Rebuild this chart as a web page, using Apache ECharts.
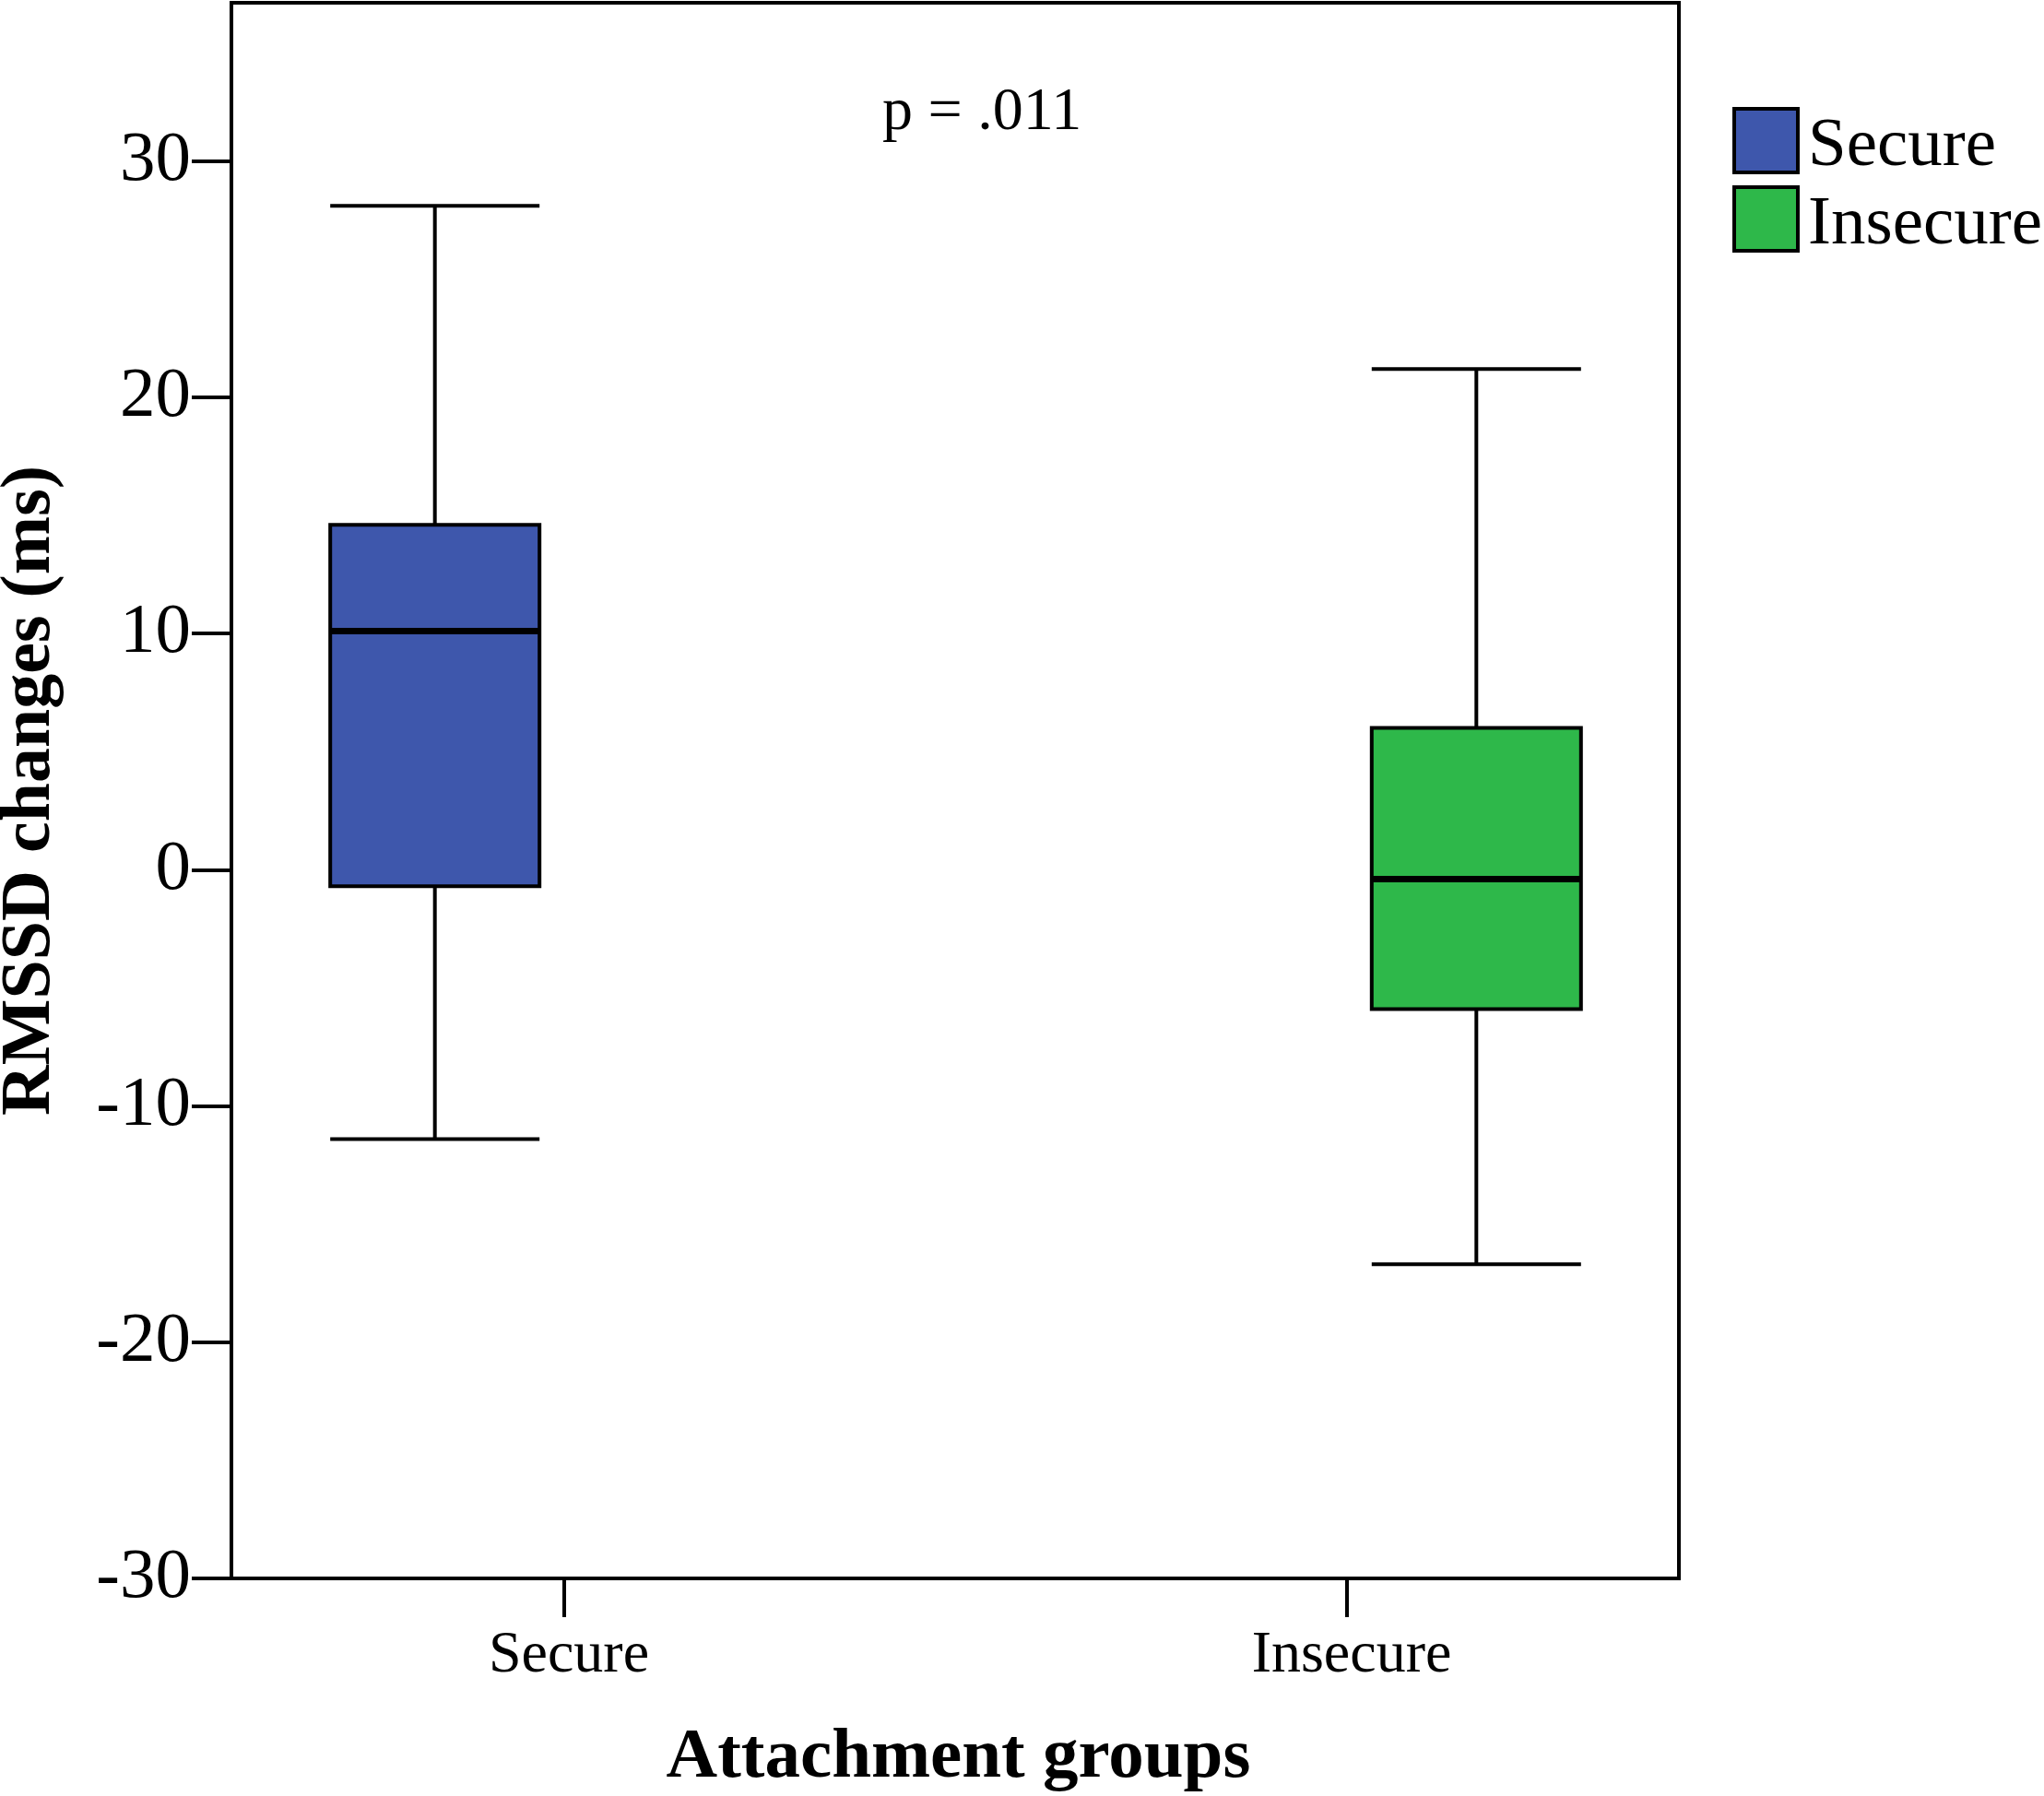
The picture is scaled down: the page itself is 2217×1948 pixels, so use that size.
<!DOCTYPE html>
<html><head><meta charset="utf-8">
<script src="https://cdn.jsdelivr.net/npm/echarts@6/dist/echarts.min.js"></script>
<style>html,body{margin:0;padding:0;background:#fff}#c{width:2217px;height:1948px}</style>
</head><body><div id="c"></div>
<script>
// ---- data ----
const categories = ['Secure', 'Insecure'];
const groupNames = ['Secure', 'Insecure'];
// [min, Q1, median, Q3, max]
const secureStats = [-11.4, -0.7, 10.1, 14.6, 28.1];
const insecureStats = [-16.7, -5.9, -0.4, 6.0, 21.2];
const yTicks = [-30, -20, -10, 0, 10, 20, 30];
const yMin = -30;
const yMax = 36.7;
const pLabel = 'p = .011';
const xTitle = 'Attachment groups';
const yTitle = 'RMSSD changes (ms)';
const groupColors = ['#3E57AC', '#2EB84A'];

// ---- build ----
const FONT = "'Liberation Serif', 'Times New Roman', serif";
const statsByGroup = [secureStats, insecureStats];
const emptyBox = ['-', '-', '-', '-', '-'];
const gridTop = 3, gridH = 1709;

const series = [];
groupNames.forEach((g, i) => {
  const stats = statsByGroup[i];
  series.push({
    name: g, type: 'boxplot', xAxisIndex: 2, yAxisIndex: 2,
    boxWidth: [227, 227],
    itemStyle: { color: groupColors[i], borderColor: '#000', borderWidth: 4 },
    emphasis: { disabled: true },
    data: categories.map((c, j) => j === i ? stats : emptyBox)
  });
});
groupNames.forEach((g, i) => {
  const med = statsByGroup[i][2];
  series.push({
    name: g + ' median', type: 'boxplot', xAxisIndex: 3, yAxisIndex: 2,
    boxWidth: [227, 227], z: 5,
    itemStyle: { color: 'rgba(0,0,0,0)', borderColor: '#000', borderWidth: 7 },
    emphasis: { disabled: true },
    data: categories.map((c, j) => j === i ? [med, med, med, med, med] : emptyBox)
  });
});

const option = {
  animation: false,
  backgroundColor: '#fff',
  title: {
    text: pLabel, left: 957, top: 90, padding: 0,
    textStyle: { fontFamily: FONT, fontSize: 66, fontWeight: 'normal', color: '#000' }
  },
  legend: {
    orient: 'vertical', left: 1879, top: 116, padding: 0,
    itemWidth: 69, itemHeight: 69, itemGap: 4, icon: 'rect',
    selectedMode: false,
    formatter: function (name) { return '{t|' + name + '}'; },
    textStyle: {
      fontFamily: FONT, fontSize: 75, color: '#000',
      rich: { t: { fontFamily: FONT, fontSize: 75, color: '#000', padding: [14, 0, 0, 6] } }
    },
    data: groupNames.map((g, i) => ({
      name: g, itemStyle: { color: groupColors[i], borderColor: '#000', borderWidth: 4 }
    }))
  },
  grid: [
    { left: 251, top: gridTop, width: 1570, height: gridH, show: true, borderColor: '#000', borderWidth: 4, backgroundColor: 'transparent', outerBoundsMode: 'none', containLabel: false },
    { left: 187.5, top: gridTop, width: 1698, height: gridH, outerBoundsMode: 'none', containLabel: false },
    { left: 262, top: gridTop, width: 1549, height: gridH, outerBoundsMode: 'none', containLabel: false }
  ],
  xAxis: [
    { gridIndex: 0, type: 'category', data: categories, show: false },
    {
      gridIndex: 1, type: 'category', data: categories, position: 'bottom',
      axisLine: { show: false, onZero: false },
      axisTick: { show: true, alignWithLabel: true, length: 42, lineStyle: { color: '#000', width: 4 } },
      axisLabel: { fontFamily: FONT, fontSize: 64, color: '#000', margin: 52, padding: [0, 0, 0, 10] },
      name: xTitle, nameLocation: 'middle', nameGap: 157,
      nameTextStyle: { fontFamily: FONT, fontSize: 77, fontWeight: 'bold', color: '#000', padding: [0, 0, 0, 6] }
    },
    { gridIndex: 2, type: 'category', data: categories, show: false },
    { gridIndex: 2, type: 'category', data: categories, show: false }
  ],
  yAxis: [
    {
      gridIndex: 0, type: 'value', min: yMin, max: yMax, interval: 10,
      axisLine: { show: true, onZero: false, lineStyle: { color: '#000', width: 4 } },
      axisTick: { show: true, length: 43, customValues: yTicks, lineStyle: { color: '#000', width: 4 } },
      axisLabel: { fontFamily: FONT, fontSize: 77, color: '#000', margin: 44, customValues: yTicks },
      splitLine: { show: false },
      name: yTitle, nameLocation: 'middle', nameGap: 180,
      nameTextStyle: { fontFamily: FONT, fontSize: 76, fontWeight: 'bold', color: '#000' }
    },
    { gridIndex: 1, type: 'value', min: yMin, max: yMax, show: false },
    { gridIndex: 2, type: 'value', min: yMin, max: yMax, show: false }
  ],
  series: series
};
const chart = echarts.init(document.getElementById('c'), null, { renderer: 'canvas' });
chart.setOption(option);
</script></body></html>
